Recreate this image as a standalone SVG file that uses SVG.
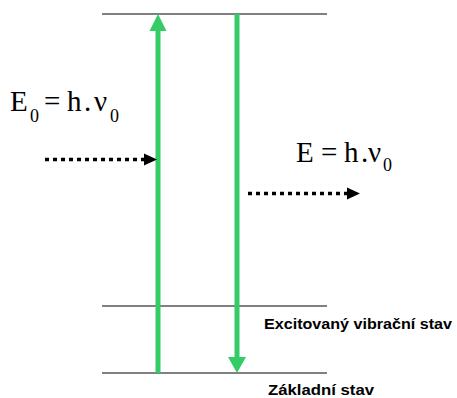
<svg xmlns="http://www.w3.org/2000/svg" width="457" height="398" viewBox="0 0 457 398">
  <style>
    .level { stroke: #808080; stroke-width: 2; fill: none; }
    .green { stroke: #33cc66; stroke-width: 5; fill: none; }
    .greenhead { fill: #33cc66; }
    .dots { stroke: #000; stroke-width: 3.5; stroke-dasharray: 4 4; fill: none; }
    .blackhead { fill: #000; }
    .eq { font-family: "Liberation Serif", "Times New Roman", serif; font-size: 29px; fill: #000; }
    .sub { font-size: 18px; }
    .lbl { font-family: "Liberation Sans", Arial, sans-serif; font-size: 15px; font-weight: bold; fill: #000; }
  </style>
  <rect width="457" height="398" fill="#fff"/>

  <g id="level-top"><line class="level" x1="102" y1="14" x2="327" y2="14"/></g>
  <g id="level-excited">
    <line class="level" x1="102" y1="306" x2="327" y2="306"/>
    <text class="lbl" x="264" y="329" textLength="188" lengthAdjust="spacingAndGlyphs">Excitovaný vibrační stav</text>
  </g>
  <g id="level-ground">
    <line class="level" x1="102" y1="373" x2="327" y2="373"/>
    <text class="lbl" x="268" y="395" textLength="106" lengthAdjust="spacingAndGlyphs">Základní stav</text>
  </g>

  <g id="connectors">
    <line class="green" x1="158" y1="373" x2="158" y2="29"/>
    <polygon class="greenhead" points="158,14 149.5,31 166.5,31"/>
    <line class="green" x1="237" y1="14" x2="237" y2="360"/>
    <polygon class="greenhead" points="237,373 228,357 246,357"/>
    <line class="dots" x1="45" y1="159.5" x2="145" y2="159.5"/>
    <polygon class="blackhead" points="144,153.5 157,159.5 144,165.5"/>
    <line class="dots" x1="248" y1="193.5" x2="348" y2="193.5"/>
    <polygon class="blackhead" points="347,187.5 360,193.5 347,199.5"/>
  </g>

  <g id="label-absorbed">
    <text class="eq"><tspan x="10" y="111">E</tspan><tspan class="sub" x="30" y="122">0</tspan><tspan x="44" y="111">=</tspan><tspan x="67" y="111">h</tspan><tspan x="84" y="111">.</tspan><tspan x="94" y="111">ν</tspan><tspan class="sub" x="110" y="122">0</tspan></text>
  </g>
  <g id="label-emitted">
    <text class="eq"><tspan x="296" y="162">E</tspan><tspan x="321" y="162">=</tspan><tspan x="344" y="162">h</tspan><tspan x="361" y="162">.</tspan><tspan x="368" y="162">ν</tspan><tspan class="sub" x="383" y="171">0</tspan></text>
  </g>
</svg>
